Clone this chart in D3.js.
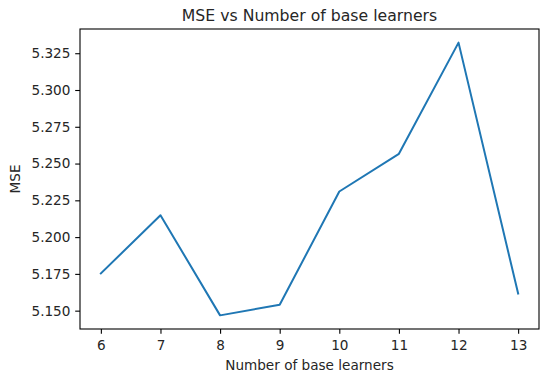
<!DOCTYPE html>
<html>
<head>
<meta charset="utf-8">
<script src="https://cdn.jsdelivr.net/npm/d3@7"></script>
<style>
body{margin:0;background:#fff;}
svg{display:block;font-family:"DejaVu Sans",sans-serif;}
</style>
</head>
<body>
<svg id="chart" width="549" height="386"></svg>
<script>
const learners = [6, 7, 8, 9, 10, 11, 12, 13];
const mse = [5.1753, 5.2149, 5.1468, 5.1540, 5.2310, 5.2566, 5.3322, 5.1616];
const xTicks = [6, 7, 8, 9, 10, 11, 12, 13];
const yTicks = [5.150, 5.175, 5.200, 5.225, 5.250, 5.275, 5.300, 5.325];

const svg = d3.select("#chart");
const pL = 80, pR = 539, pT = 29, pB = 329;
const fs = 13.6;

const xMin = d3.min(learners), xMax = d3.max(learners);
const xPad = (xMax - xMin) * 0.05;
const yMin = d3.min(mse), yMax = d3.max(mse);
const yPad = (yMax - yMin) * 0.05;

const x = d3.scaleLinear().domain([xMin - xPad, xMax + xPad]).range([pL, pR]);
const y = d3.scaleLinear().domain([yMin - yPad, yMax + yPad]).range([pB, pT]);

const line = d3.line().x((d, i) => x(learners[i])).y(d => y(d));
svg.append("path").datum(mse)
  .attr("d", line)
  .attr("fill", "none")
  .attr("stroke", "#1f77b4")
  .attr("stroke-width", 2)
  .attr("stroke-linejoin", "round")
  .attr("stroke-linecap", "square");

const xAxis = svg.append("g").attr("transform", `translate(0,${pB})`)
  .call(d3.axisBottom(x).tickValues(xTicks).tickFormat(d3.format("d")).tickSize(4.8).tickPadding(6.5));
const yAxis = svg.append("g").attr("transform", `translate(${pL},0)`)
  .call(d3.axisLeft(y).tickValues(yTicks).tickFormat(d3.format(".3f")).tickSize(4.8).tickPadding(4.8));

[xAxis, yAxis].forEach(g => {
  g.select(".domain").remove();
  g.selectAll(".tick line").attr("stroke", "#000").attr("stroke-width", 1.1);
  g.selectAll(".tick text").attr("fill", "#262626").attr("font-size", fs).attr("font-family", "DejaVu Sans, sans-serif");
});

svg.append("rect")
  .attr("x", pL).attr("y", pT)
  .attr("width", pR - pL).attr("height", pB - pT)
  .attr("fill", "none").attr("stroke", "#000").attr("stroke-width", 1.1);

svg.append("text")
  .attr("x", (pL + pR) / 2).attr("y", 21)
  .attr("text-anchor", "middle")
  .attr("font-size", 15.7).attr("fill", "#262626")
  .text("MSE vs Number of base learners");

svg.append("text")
  .attr("x", (pL + pR) / 2).attr("y", 370)
  .attr("text-anchor", "middle")
  .attr("font-size", fs).attr("fill", "#262626")
  .text("Number of base learners");

svg.append("text")
  .attr("transform", `translate(19.5,${(pT + pB) / 2}) rotate(-90)`)
  .attr("text-anchor", "middle")
  .attr("font-size", fs).attr("fill", "#262626")
  .text("MSE");
</script>
</body>
</html>
